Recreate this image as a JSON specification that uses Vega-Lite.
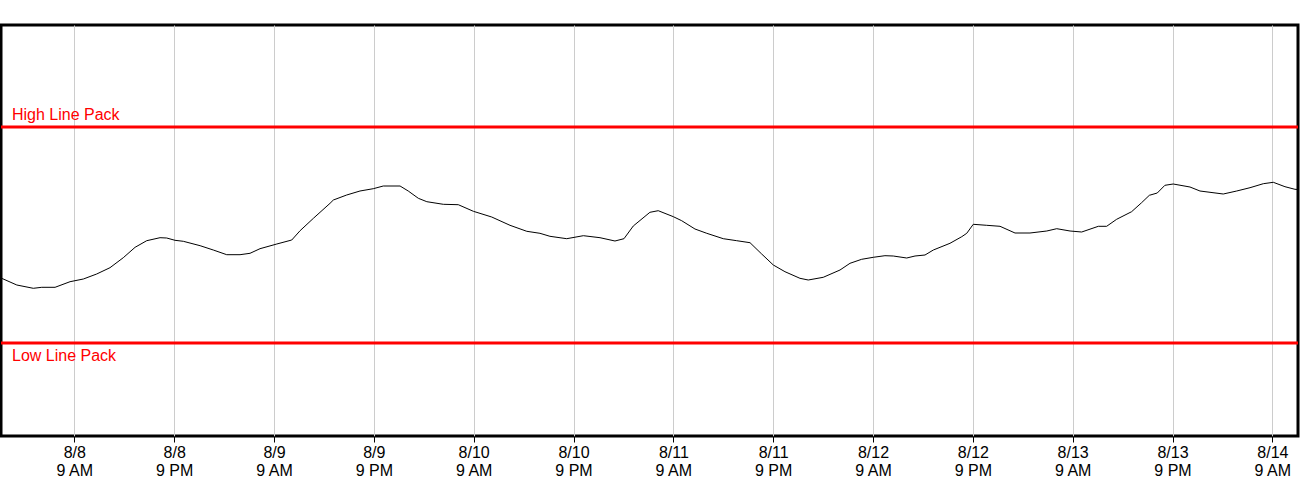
{
  "$schema": "https://vega.github.io/schema/vega-lite/v6.json",
  "description": "Line pack over a week, with the high and low line pack limits.",
  "autosize": {"type": "none"},
  "padding": {"left": 1, "top": 25, "right": 2, "bottom": 64},
  "width": 1297,
  "height": 411,
  "config": {
    "view": {"stroke": "black", "strokeWidth": 3},
    "font": "Liberation Sans"
  },
  "datasets": {
    "pack": [
      {"t": "2023-08-08 00:11", "v": 158},
      {"t": "2023-08-08 02:05", "v": 151},
      {"t": "2023-08-08 04:04", "v": 147.7},
      {"t": "2023-08-08 05:05", "v": 148.7},
      {"t": "2023-08-08 06:41", "v": 148.7},
      {"t": "2023-08-08 08:29", "v": 154.3},
      {"t": "2023-08-08 10:05", "v": 157},
      {"t": "2023-08-08 11:41", "v": 162},
      {"t": "2023-08-08 13:17", "v": 168.3},
      {"t": "2023-08-08 14:53", "v": 178.3},
      {"t": "2023-08-08 16:18", "v": 188.7},
      {"t": "2023-08-08 17:42", "v": 195.3},
      {"t": "2023-08-08 19:18", "v": 198.3},
      {"t": "2023-08-08 20:06", "v": 198},
      {"t": "2023-08-08 21:06", "v": 195.7},
      {"t": "2023-08-08 22:06", "v": 194.7},
      {"t": "2023-08-09 00:07", "v": 190.3},
      {"t": "2023-08-09 01:42", "v": 186},
      {"t": "2023-08-09 03:19", "v": 181.3},
      {"t": "2023-08-09 04:55", "v": 181.3},
      {"t": "2023-08-09 06:07", "v": 182.7},
      {"t": "2023-08-09 07:19", "v": 187.3},
      {"t": "2023-08-09 09:20", "v": 192},
      {"t": "2023-08-09 11:08", "v": 196},
      {"t": "2023-08-09 12:08", "v": 205.3},
      {"t": "2023-08-09 13:44", "v": 217.7},
      {"t": "2023-08-09 15:44", "v": 232.7},
      {"t": "2023-08-09 16:08", "v": 236},
      {"t": "2023-08-09 17:44", "v": 241},
      {"t": "2023-08-09 19:20", "v": 245},
      {"t": "2023-08-09 20:56", "v": 247.3},
      {"t": "2023-08-09 22:08", "v": 250},
      {"t": "2023-08-10 00:09", "v": 250},
      {"t": "2023-08-10 01:08", "v": 245},
      {"t": "2023-08-10 02:21", "v": 237.7},
      {"t": "2023-08-10 03:22", "v": 234.3},
      {"t": "2023-08-10 05:21", "v": 231.7},
      {"t": "2023-08-10 07:09", "v": 231.3},
      {"t": "2023-08-10 08:58", "v": 224.7},
      {"t": "2023-08-10 11:10", "v": 219},
      {"t": "2023-08-10 13:22", "v": 210.7},
      {"t": "2023-08-10 15:23", "v": 204.7},
      {"t": "2023-08-10 16:58", "v": 202.7},
      {"t": "2023-08-10 18:10", "v": 199.7},
      {"t": "2023-08-10 20:11", "v": 197.3},
      {"t": "2023-08-10 22:11", "v": 200.3},
      {"t": "2023-08-11 00:11", "v": 198.3},
      {"t": "2023-08-11 01:59", "v": 195},
      {"t": "2023-08-11 03:04", "v": 197.3},
      {"t": "2023-08-11 04:11", "v": 210},
      {"t": "2023-08-11 06:11", "v": 223.7},
      {"t": "2023-08-11 07:11", "v": 225.3},
      {"t": "2023-08-11 09:00", "v": 219.3},
      {"t": "2023-08-11 10:00", "v": 215.3},
      {"t": "2023-08-11 11:36", "v": 207},
      {"t": "2023-08-11 13:01", "v": 202.7},
      {"t": "2023-08-11 15:00", "v": 197.3},
      {"t": "2023-08-11 16:37", "v": 195.3},
      {"t": "2023-08-11 18:13", "v": 193.3},
      {"t": "2023-08-11 19:37", "v": 182},
      {"t": "2023-08-11 21:01", "v": 171},
      {"t": "2023-08-11 22:25", "v": 164.3},
      {"t": "2023-08-12 00:13", "v": 157.7},
      {"t": "2023-08-12 01:13", "v": 156},
      {"t": "2023-08-12 03:01", "v": 158.7},
      {"t": "2023-08-12 05:02", "v": 166},
      {"t": "2023-08-12 06:14", "v": 172.7},
      {"t": "2023-08-12 07:38", "v": 176.7},
      {"t": "2023-08-12 09:02", "v": 178.7},
      {"t": "2023-08-12 10:26", "v": 180.3},
      {"t": "2023-08-12 11:26", "v": 180},
      {"t": "2023-08-12 13:03", "v": 178},
      {"t": "2023-08-12 14:03", "v": 180},
      {"t": "2023-08-12 15:15", "v": 181},
      {"t": "2023-08-12 16:15", "v": 186},
      {"t": "2023-08-12 18:15", "v": 192.7},
      {"t": "2023-08-12 19:40", "v": 199.3},
      {"t": "2023-08-12 20:16", "v": 202.7},
      {"t": "2023-08-12 21:03", "v": 211.7},
      {"t": "2023-08-12 22:40", "v": 210.7},
      {"t": "2023-08-13 00:16", "v": 209.7},
      {"t": "2023-08-13 02:04", "v": 203},
      {"t": "2023-08-13 03:52", "v": 203},
      {"t": "2023-08-13 05:53", "v": 205},
      {"t": "2023-08-13 07:05", "v": 207.3},
      {"t": "2023-08-13 08:41", "v": 205},
      {"t": "2023-08-13 10:05", "v": 204},
      {"t": "2023-08-13 12:05", "v": 209.7},
      {"t": "2023-08-13 13:05", "v": 209.7},
      {"t": "2023-08-13 14:17", "v": 216.7},
      {"t": "2023-08-13 16:05", "v": 224.3},
      {"t": "2023-08-13 17:17", "v": 233.3},
      {"t": "2023-08-13 18:13", "v": 240.7},
      {"t": "2023-08-13 19:10", "v": 243},
      {"t": "2023-08-13 20:05", "v": 250.7},
      {"t": "2023-08-13 21:05", "v": 252},
      {"t": "2023-08-13 23:06", "v": 249},
      {"t": "2023-08-14 00:18", "v": 245},
      {"t": "2023-08-14 03:06", "v": 242},
      {"t": "2023-08-14 04:43", "v": 245},
      {"t": "2023-08-14 06:19", "v": 248.3},
      {"t": "2023-08-14 07:55", "v": 252.3},
      {"t": "2023-08-14 09:07", "v": 253.7},
      {"t": "2023-08-14 10:31", "v": 249.3},
      {"t": "2023-08-14 11:43", "v": 246.7},
      {"t": "2023-08-14 12:05", "v": 246.5}
    ],
    "limits": [
      {"label": "High Line Pack", "v": 309},
      {"label": "Low Line Pack", "v": 93}
    ]
  },
  "encoding": {
    "y": {
      "field": "v",
      "type": "quantitative",
      "scale": {"domain": [0, 411], "nice": false, "zero": false},
      "axis": null
    }
  },
  "layer": [
    {
      "data": {"name": "pack"},
      "mark": {"type": "line", "color": "black", "strokeWidth": 1},
      "encoding": {
        "x": {
          "field": "t",
          "type": "temporal",
          "scale": {
            "domain": [
              {"year": 2023, "month": 8, "date": 8, "hours": 0, "minutes": 11},
              {"year": 2023, "month": 8, "date": 14, "hours": 12, "minutes": 5}
            ],
            "nice": false
          },
          "axis": {
            "title": null,
            "values": [
              {"year": 2023, "month": 8, "date": 8, "hours": 9},
              {"year": 2023, "month": 8, "date": 8, "hours": 21},
              {"year": 2023, "month": 8, "date": 9, "hours": 9},
              {"year": 2023, "month": 8, "date": 9, "hours": 21},
              {"year": 2023, "month": 8, "date": 10, "hours": 9},
              {"year": 2023, "month": 8, "date": 10, "hours": 21},
              {"year": 2023, "month": 8, "date": 11, "hours": 9},
              {"year": 2023, "month": 8, "date": 11, "hours": 21},
              {"year": 2023, "month": 8, "date": 12, "hours": 9},
              {"year": 2023, "month": 8, "date": 12, "hours": 21},
              {"year": 2023, "month": 8, "date": 13, "hours": 9},
              {"year": 2023, "month": 8, "date": 13, "hours": 21},
              {"year": 2023, "month": 8, "date": 14, "hours": 9}
            ],
            "labelExpr": "[timeFormat(datum.value, '%-m/%-d'), timeFormat(datum.value, '%-I %p')]",
            "labelFont": "Liberation Sans",
            "labelFontSize": 16,
            "labelColor": "black",
            "labelLineHeight": 18,
            "labelAlign": "center",
            "labelBaseline": "top",
            "labelPadding": 2,
            "labelFlush": false,
            "labelOverlap": false,
            "tickColor": "black",
            "tickSize": 6,
            "domain": false,
            "grid": true,
            "gridColor": "#cccccc",
            "gridWidth": 1
          }
        }
      }
    },
    {
      "data": {"name": "limits"},
      "mark": {"type": "rule", "color": "#ff0000", "strokeWidth": 3},
      "encoding": {}
    },
    {
      "data": {"name": "limits"},
      "transform": [{"filter": "datum.label == 'High Line Pack'"}],
      "mark": {"type": "text", "color": "#ff0000", "font": "Liberation Sans", "fontSize": 16, "align": "left", "baseline": "alphabetic", "dx": 11, "dy": -7},
      "encoding": {
        "x": {"datum": {"year": 2023, "month": 8, "date": 8, "hours": 0, "minutes": 11}, "type": "temporal"},
        "text": {"field": "label"}
      }
    },
    {
      "data": {"name": "limits"},
      "transform": [{"filter": "datum.label == 'Low Line Pack'"}],
      "mark": {"type": "text", "color": "#ff0000", "font": "Liberation Sans", "fontSize": 16, "align": "left", "baseline": "top", "dx": 11, "dy": 5},
      "encoding": {
        "x": {"datum": {"year": 2023, "month": 8, "date": 8, "hours": 0, "minutes": 11}, "type": "temporal"},
        "text": {"field": "label"}
      }
    }
  ]
}
